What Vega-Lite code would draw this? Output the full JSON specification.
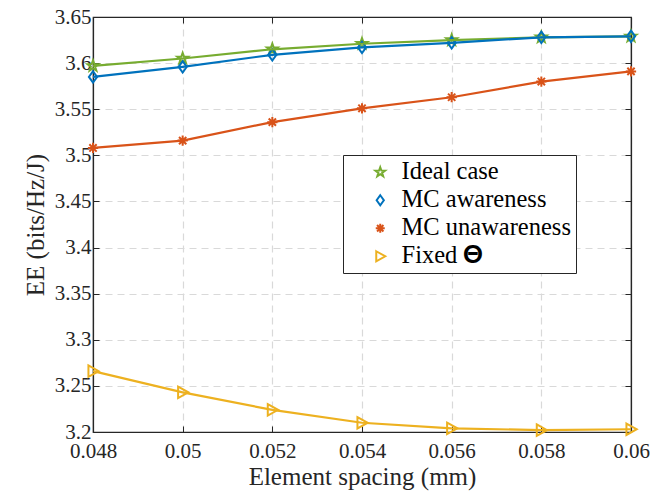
{
  "$schema": "https://vega.github.io/schema/vega-lite/v6.json",
  "width": 538,
  "height": 415,
  "autosize": "none",
  "padding": {"left": 93, "top": 17, "right": 31, "bottom": 66},
  "background": "white",
  "config": {
    "font": "Liberation Serif",
    "view": {"stroke": "#262626", "strokeWidth": 1.2},
    "axis": {
      "labelFont": "Liberation Serif",
      "titleFont": "Liberation Serif",
      "labelFontSize": 21,
      "titleFontSize": 25,
      "titleFontWeight": "normal",
      "labelColor": "#262626",
      "titleColor": "#262626",
      "domainColor": "#262626",
      "domainWidth": 1.2,
      "tickColor": "#262626",
      "tickSize": -6,
      "tickWidth": 1,
      "gridColor": "#d9d9d9",
      "gridDash": [7, 5],
      "gridWidth": 1.2
    },
    "legend": {
      "fillColor": "white",
      "strokeColor": "#262626",
      "padding": 5,
      "symbolSize": 100,
      "symbolStrokeWidth": 2,
      "symbolOffset": 20,
      "labelOffset": 9,
      "labelFont": "Liberation Serif",
      "labelFontSize": 24.5,
      "labelColor": "#000000",
      "rowPadding": 3,
      "labelLimit": 300
    }
  },
  "data": {
    "values": [
      {"spacing": 0.048, "series": "Ideal case", "ee": 3.597},
      {"spacing": 0.050, "series": "Ideal case", "ee": 3.605},
      {"spacing": 0.052, "series": "Ideal case", "ee": 3.615},
      {"spacing": 0.054, "series": "Ideal case", "ee": 3.621},
      {"spacing": 0.056, "series": "Ideal case", "ee": 3.625},
      {"spacing": 0.058, "series": "Ideal case", "ee": 3.628},
      {"spacing": 0.060, "series": "Ideal case", "ee": 3.629},
      {"spacing": 0.048, "series": "MC awareness", "ee": 3.585},
      {"spacing": 0.050, "series": "MC awareness", "ee": 3.596},
      {"spacing": 0.052, "series": "MC awareness", "ee": 3.609},
      {"spacing": 0.054, "series": "MC awareness", "ee": 3.617},
      {"spacing": 0.056, "series": "MC awareness", "ee": 3.622},
      {"spacing": 0.058, "series": "MC awareness", "ee": 3.628},
      {"spacing": 0.060, "series": "MC awareness", "ee": 3.629},
      {"spacing": 0.048, "series": "MC unawareness", "ee": 3.508},
      {"spacing": 0.050, "series": "MC unawareness", "ee": 3.516},
      {"spacing": 0.052, "series": "MC unawareness", "ee": 3.536},
      {"spacing": 0.054, "series": "MC unawareness", "ee": 3.551},
      {"spacing": 0.056, "series": "MC unawareness", "ee": 3.563},
      {"spacing": 0.058, "series": "MC unawareness", "ee": 3.580},
      {"spacing": 0.060, "series": "MC unawareness", "ee": 3.591},
      {"spacing": 0.048, "series": "Fixed 𝚯", "ee": 3.266},
      {"spacing": 0.050, "series": "Fixed 𝚯", "ee": 3.243},
      {"spacing": 0.052, "series": "Fixed 𝚯", "ee": 3.224},
      {"spacing": 0.054, "series": "Fixed 𝚯", "ee": 3.210},
      {"spacing": 0.056, "series": "Fixed 𝚯", "ee": 3.204},
      {"spacing": 0.058, "series": "Fixed 𝚯", "ee": 3.202},
      {"spacing": 0.060, "series": "Fixed 𝚯", "ee": 3.203}
    ]
  },
  "layer": [
    {
      "mark": {"type": "point", "filled": false, "strokeWidth": 2, "size": 130, "opacity": 1, "clip": false},
      "encoding": {
        "x": {
          "field": "spacing",
          "type": "quantitative",
          "scale": {"domain": [0.048, 0.06], "nice": false, "zero": false},
          "axis": {
            "title": "Element spacing (mm)",
            "values": [0.048, 0.05, 0.052, 0.054, 0.056, 0.058, 0.06],
            "format": "~g",
            "labelPadding": 14,
            "titlePadding": 3,
            "labelFlush": false
          }
        },
        "y": {
          "field": "ee",
          "type": "quantitative",
          "scale": {"domain": [3.2, 3.65], "nice": false, "zero": false},
          "axis": {
            "title": "EE (bits/Hz/J)",
            "values": [3.2, 3.25, 3.3, 3.35, 3.4, 3.45, 3.5, 3.55, 3.6, 3.65],
            "format": "~g",
            "labelPadding": 8,
            "titlePadding": 6
          }
        },
        "color": {
          "field": "series",
          "type": "nominal",
          "scale": {
            "domain": ["Ideal case", "MC awareness", "MC unawareness", "Fixed 𝚯"],
            "range": ["#77AC30", "#0072BD", "#D95319", "#EDB120"]
          },
          "legend": {
            "title": null,
            "orient": "none",
            "legendX": 250,
            "legendY": 138
          }
        },
        "shape": {
          "field": "series",
          "type": "nominal",
          "scale": {
            "domain": ["Ideal case", "MC awareness", "MC unawareness", "Fixed 𝚯"],
            "range": [
              "M0,-1L0.235,-0.324L0.951,-0.309L0.38,0.124L0.588,0.809L0,0.4L-0.588,0.809L-0.38,0.124L-0.951,-0.309L-0.235,-0.324Z",
              "M0,-1L0.72,0L0,1L-0.72,0Z",
              "M-0.9,0L0.9,0M0,-0.9L0,0.9M-0.64,-0.64L0.64,0.64M-0.64,0.64L0.64,-0.64",
              "M-0.8,-1L1,0L-0.8,1Z"
            ]
          },
          "legend": {
            "title": null,
            "orient": "none",
            "legendX": 250,
            "legendY": 138
          }
        }
      }
    },
    {
      "mark": {"type": "line", "strokeWidth": 2.2, "clip": false},
      "encoding": {
        "x": {"field": "spacing", "type": "quantitative", "axis": null},
        "y": {"field": "ee", "type": "quantitative", "axis": null},
        "color": {
          "field": "series",
          "type": "nominal",
          "legend": {
            "title": null,
            "orient": "none",
            "legendX": 250,
            "legendY": 138
          }
        }
      }
    },
    {
      "mark": {"type": "point", "opacity": 0},
      "encoding": {
        "x": {
          "field": "spacing",
          "type": "quantitative",
          "axis": {
            "orient": "top",
            "values": [0.048, 0.05, 0.052, 0.054, 0.056, 0.058, 0.06],
            "labels": false,
            "grid": false,
            "title": null
          }
        },
        "y": {
          "field": "ee",
          "type": "quantitative",
          "axis": {
            "orient": "right",
            "values": [3.2, 3.25, 3.3, 3.35, 3.4, 3.45, 3.5, 3.55, 3.6, 3.65],
            "labels": false,
            "grid": false,
            "title": null
          }
        }
      }
    }
  ],
  "resolve": {"axis": {"x": "independent", "y": "independent"}}
}
